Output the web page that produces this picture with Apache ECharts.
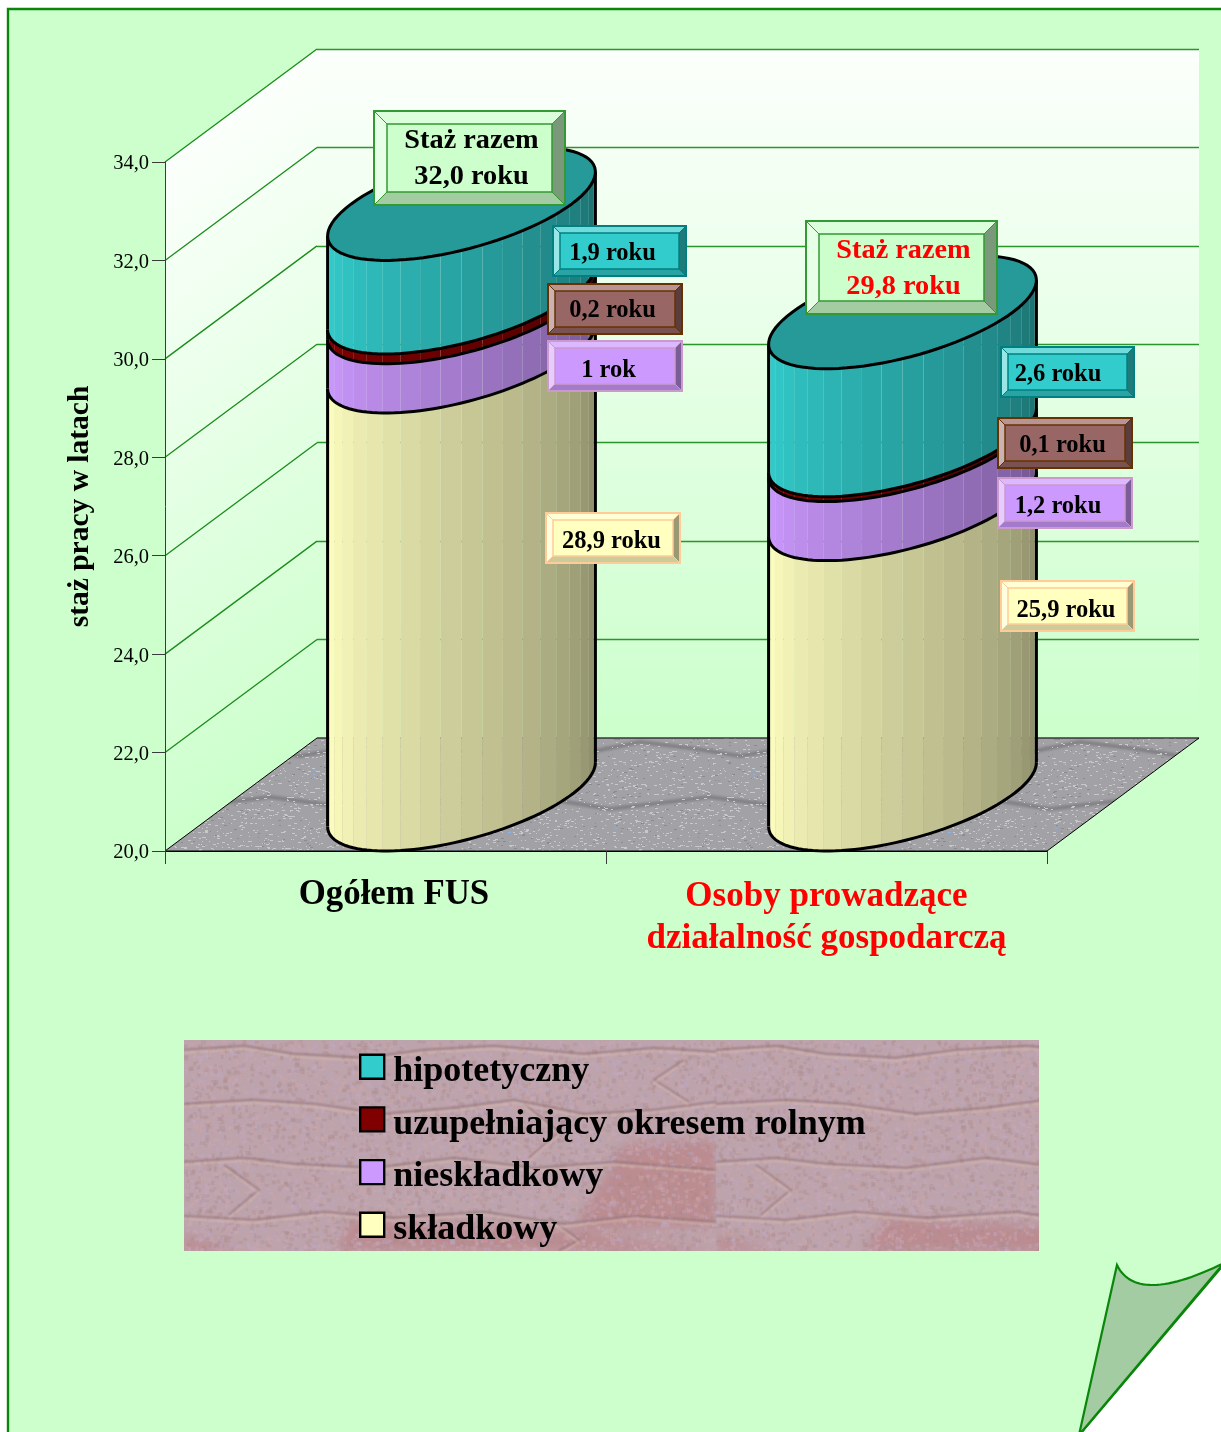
<!DOCTYPE html>
<html><head><meta charset="utf-8">
<style>html,body{margin:0;padding:0;background:#fff}#c{width:1221px;height:1432px}</style>
<script src="https://cdn.jsdelivr.net/npm/echarts@6/dist/echarts.min.js"></script>
</head><body><div id="c"></div>
<script>
// ---------- data ----------
const categories = ['Ogółem FUS', 'Osoby prowadzące\ndziałalność gospodarczą'];
const skladkowy = [28.9, 25.9];
const nieskladkowy = [1.0, 1.2];
const uzupelniajacy = [0.2, 0.1];
const hipotetyczny = [1.9, 2.6];
const yMin = 20, yMax = 34, yStep = 2;
const yTicks = [20, 22, 24, 26, 28, 30, 32, 34];
const skladkowyLabels = ['28,9 roku', '25,9 roku'];
const nieskladkowyLabels = ['1 rok', '1,2 roku'];
const uzupelniajacyLabels = ['0,2 roku', '0,1 roku'];
const hipotetycznyLabels = ['1,9 roku', '2,6 roku'];
const razemLabels = ['Staż razem\n32,0 roku', 'Staż razem\n29,8 roku'];
const seriesNames = ['składkowy', 'nieskładkowy', 'uzupełniający okresem rolnym', 'hipotetyczny'];

// ---------- layout and style ----------
const FONT = '"Liberation Serif","Times New Roman",serif';
const DEPTH_X = 152, DEPTH_Y = 113;
const seriesColors = ['#FFFFC0', '#CC99FF', '#800000', '#33CCCC'];
const STRIPS = 20;
const shadeEnd = 0.54;
const grid = {left: 165, top: 162, width: 882, height: 689};
// callout boxes: x0,y0,x1,y1, text centre x,y
const small = 7, big = 13;
const boxLayouts = [
  {text: razemLabels[0], r: [374, 111, 565, 205], c: [471.5, 159], face: '#CCFFCC', line: '#339933', col: '#000', fs: 28.3, bev: big},
  {text: razemLabels[1], r: [806, 221, 997, 314], c: [903.5, 269], face: '#CCFFCC', line: '#339933', col: '#FF0000', fs: 28.3, bev: big},
  {text: hipotetycznyLabels[0], r: [553, 226, 686, 276], c: [612.5, 254], face: '#33CCCC', line: '#008080', col: '#000', fs: 24.5, bev: small},
  {text: uzupelniajacyLabels[0], r: [548, 284, 682, 334], c: [612.5, 311], face: '#996666', line: '#663300', col: '#000', fs: 24.5, bev: small},
  {text: nieskladkowyLabels[0], r: [548, 341, 682, 391], c: [608.5, 371], face: '#CC99FF', line: '#CC99CC', col: '#000', fs: 24.5, bev: small},
  {text: skladkowyLabels[0], r: [546, 513, 680, 563], c: [611.5, 542], face: '#FFFFC0', line: '#FFCC99', col: '#000', fs: 24.5, bev: small},
  {text: hipotetycznyLabels[1], r: [1001, 347, 1134, 397], c: [1058, 375], face: '#33CCCC', line: '#008080', col: '#000', fs: 24.5, bev: small},
  {text: uzupelniajacyLabels[1], r: [998, 418, 1132, 468], c: [1062.5, 446], face: '#996666', line: '#663300', col: '#000', fs: 24.5, bev: small},
  {text: nieskladkowyLabels[1], r: [998, 478, 1132, 528], c: [1058, 507], face: '#CC99FF', line: '#CC99CC', col: '#000', fs: 24.5, bev: small},
  {text: skladkowyLabels[1], r: [1001, 581, 1134, 631], c: [1066, 611], face: '#FFFFC0', line: '#FFCC99', col: '#000', fs: 24.5, bev: small}
];

function parse(c) { return [1, 3, 5].map(i => parseInt(c.substr(i, 2), 16)); }
function scale(c, k) { return 'rgb(' + parse(c).map(v => Math.round(v * k)).join(',') + ')'; }
function tint(c, k) { return 'rgb(' + parse(c).map(v => Math.round(v + (255 - v) * k)).join(',') + ')'; }

// ---------- decorative textures ----------
let seed = 12345;
function lcg() { seed = (seed * 1103515245 + 12345) & 0x7fffffff; return seed / 0x7fffffff; }
function floorTexture() {
  const cv = document.createElement('canvas'); cv.width = 440; cv.height = 113;
  const g = cv.getContext('2d');
  g.fillStyle = '#a2a2a6'; g.fillRect(0, 0, 440, 113);
  const paths = [[0, 12, 40, 8, 80, 14, 120, 10, 170, 18, 220, 12, 270, 6, 330, 14, 390, 10, 440, 12],
    [0, 70, 50, 76, 100, 68, 150, 74, 200, 64, 250, 70, 300, 78, 360, 68, 440, 70]];
  g.save(); g.filter = 'blur(1.2px)';
  g.strokeStyle = 'rgba(125,125,128,.85)'; g.lineWidth = 4; g.lineJoin = 'round';
  paths.forEach(p => {
    g.beginPath(); g.moveTo(p[0], p[1]);
    for (let i = 2; i < p.length; i += 2) g.lineTo(p[i], p[i + 1]);
    g.stroke();
  });
  g.restore();
  for (let i = 0; i < 2300; i++) {
    const x = Math.floor(lcg() * 440), y = Math.floor(lcg() * 113);
    g.fillStyle = lcg() > 0.985 ? '#8ab4ea' : (lcg() > 0.2 ? '#c8c8ca' : '#8b8b8f');
    g.fillRect(x, y, 1 + Math.floor(lcg() * 3), 1);
  }
  return cv;
}
function legendTexture() {
  const W = 855, H = 211, T = 532;
  const cv = document.createElement('canvas'); cv.width = W; cv.height = H;
  const g = cv.getContext('2d');
  g.fillStyle = '#bda3ab'; g.fillRect(0, 0, W, H);
  g.save(); g.filter = 'blur(6px)';
  for (const off of [0, T]) {
    g.save(); g.beginPath(); g.rect(off, 0, T, H); g.clip();
    g.fillStyle = 'rgba(185,105,105,.4)';
    [[440, 105, 532, 100, 532, 185, 390, 190], [170, 178, 380, 190, 532, 211, 150, 211], [0, 195, 60, 211, 0, 211]].forEach(p => {
      g.beginPath(); g.moveTo(off + p[0], p[1]);
      for (let i = 2; i < p.length; i += 2) g.lineTo(off + p[i], p[i + 1]);
      g.closePath(); g.fill();
    });
    g.restore();
  }
  g.restore();
  const spots = ['rgba(200,170,190,.4)', 'rgba(175,145,150,.4)', 'rgba(205,165,165,.35)', 'rgba(190,170,200,.35)', 'rgba(170,135,135,.3)'];
  g.save(); g.filter = 'blur(.7px)';
  for (let i = 0; i < 9000; i++) {
    g.fillStyle = spots[Math.floor(lcg() * spots.length)];
    g.fillRect(lcg() * W, lcg() * H, 2 + lcg() * 3, 2 + lcg() * 3);
  }
  g.restore();
  const waves = [
    [0, 10, 60, 6, 110, 14, 180, 18, 240, 10, 310, 6, 400, 14, 470, 8, 532, 12],
    [0, 64, 70, 60, 130, 64, 200, 74, 270, 68, 330, 60, 400, 74, 470, 70, 532, 62],
    [0, 122, 60, 118, 110, 124, 190, 128, 270, 118, 350, 128, 430, 122, 532, 130],
    [0, 176, 70, 180, 140, 172, 210, 178, 300, 172, 380, 184, 450, 176, 532, 182]
  ];
  const kinks = [[340, 64, 375, 92, 345, 118], [40, 125, 75, 150, 45, 175], [500, 20, 470, 40, 505, 62], [365, 178, 395, 200, 375, 211]];
  g.save(); g.filter = 'blur(1px)';
  for (const off of [0, T]) {
    [['rgba(140,105,112,.7)', 0], ['rgba(222,195,180,.6)', 2.5]].forEach(([col, dy]) => {
      g.strokeStyle = col; g.lineWidth = 2; g.lineJoin = 'round';
      waves.concat(kinks).forEach(p => {
        g.beginPath(); g.moveTo(off + p[0], p[1] + dy);
        for (let i = 2; i < p.length; i += 2) g.lineTo(off + p[i], p[i + 1] + dy);
        g.stroke();
      });
    });
  }
  g.restore();
  return cv;
}
const floorPattern = {image: floorTexture(), repeat: 'repeat'};
function foldOutline() {
  const p0 = [1117, 1265], p1 = [1130, 1292], p2 = [1165, 1292], p3 = [1224, 1263];
  const pts = [];
  for (let i = 0; i <= 30; i++) {
    const t = i / 30, u = 1 - t;
    pts.push([0, 1].map(d => u * u * u * p0[d] + 3 * u * u * t * p1[d] + 3 * u * t * t * p2[d] + t * t * t * p3[d]));
  }
  pts.push([1079, 1435]);
  return pts;
}

// ---------- cylinder ----------
const stacks = [skladkowy, nieskladkowy, uzupelniajacy, hipotetyczny];
function ring(cx, cy, rx, a) {
  const dx = DEPTH_X / 2, dy = DEPTH_Y / 2;
  return [cx + rx * Math.cos(a) + dx * Math.sin(a), cy - dy * Math.sin(a)];
}
function makeCylinderSeries(k, values) {
  const from = values.map((_, i) => {
    let s = 0;
    for (let j = 0; j < k; j++) s += stacks[j][i];
    return s;
  });
  return {
    type: 'custom', name: seriesNames[k], xAxisIndex: 0, yAxisIndex: 0, z: 4,
    itemStyle: {color: seriesColors[k]},
    encode: {x: 0, y: [1, 2]},
    data: values.map((v, i) => [i, from[i], from[i] + v]),
    renderItem(params, api) {
      const idx = api.value(0), lo = Math.max(api.value(1), yMin), hi = api.value(2);
      const band = api.size([1, 0])[0], rx = band / 4;
      const pLo = api.coord([idx, lo]), pHi = api.coord([idx, hi]);
      const cx = pLo[0] + DEPTH_X / 2, yLo = pLo[1] - DEPTH_Y / 2, yHi = pHi[1] - DEPTH_Y / 2;
      const a0 = Math.atan2(DEPTH_X / 2, rx);
      const start = a0 + Math.PI, step = Math.PI / STRIPS;
      const kids = [];
      for (let s = 0; s < STRIPS; s++) {
        const up = [], dn = [];
        for (let t = 0; t <= 3; t++) {
          const a = start + (s + t / 3) * step;
          up.push(ring(cx, yHi, rx, a)); dn.unshift(ring(cx, yLo, rx, a));
        }
        const f = 1 - (1 - shadeEnd) * Math.pow(s / (STRIPS - 1), 1.15);
        kids.push({type: 'polygon', shape: {points: up.concat(dn)}, style: {fill: scale(seriesColors[k], f)}, silent: true});
      }
      const edge = [];
      for (let s = 0; s <= 60; s++) edge.push(ring(cx, yLo, rx, start + s / 60 * Math.PI));
      kids.push({type: 'polyline', shape: {points: edge}, style: {stroke: '#000', lineWidth: 3, fill: null}, silent: true});
      const l0 = ring(cx, yLo, rx, start), l1 = ring(cx, yHi, rx, start);
      const r0 = ring(cx, yLo, rx, start + Math.PI), r1 = ring(cx, yHi, rx, start + Math.PI);
      kids.push({type: 'line', shape: {x1: l0[0], y1: l0[1], x2: l1[0], y2: l1[1]}, style: {stroke: '#000', lineWidth: 3}, silent: true});
      kids.push({type: 'line', shape: {x1: r0[0], y1: r0[1], x2: r1[0], y2: r1[1]}, style: {stroke: '#000', lineWidth: 3}, silent: true});
      if (k === stacks.length - 1) {
        const top = [];
        for (let s = 0; s < 90; s++) top.push(ring(cx, yHi, rx, s / 90 * Math.PI * 2));
        kids.push({type: 'polygon', shape: {points: top}, style: {fill: scale(seriesColors[k], 0.75), stroke: '#000', lineWidth: 3}, silent: true});
      }
      return {type: 'group', children: kids};
    }
  };
}

function wallSeries() {
  return {
    type: 'custom', xAxisIndex: 0, yAxisIndex: 0, z: 0, data: [[0, yMin]],
    encode: {x: 0, y: 1}, silent: true,
    renderItem(params, api) {
      const s = params.coordSys, x = s.x, y = s.y, w = s.width, h = s.height;
      const n = [DEPTH_Y, DEPTH_X], len = Math.hypot(n[0], n[1]);
      const dist = h * n[1] / len;
      const stops = [{offset: 0, color: '#FCFFFC'}, {offset: 1, color: '#CCFFCC'}];
      return {type: 'group', children: [
        {type: 'polygon', shape: {points: [[x + DEPTH_X, y - DEPTH_Y], [x + w + DEPTH_X, y - DEPTH_Y], [x + w + DEPTH_X, y + h - DEPTH_Y], [x + DEPTH_X, y + h - DEPTH_Y]]},
         style: {fill: {type: 'linear', global: true, x: 0, y: y - DEPTH_Y, x2: 0, y2: y + h - DEPTH_Y, colorStops: stops}}},
        {type: 'polygon', shape: {points: [[x, y], [x + DEPTH_X, y - DEPTH_Y], [x + DEPTH_X, y + h - DEPTH_Y], [x, y + h]]},
         style: {fill: {type: 'linear', global: true, x: x, y: y, x2: x + dist * n[0] / len, y2: y + dist * n[1] / len, colorStops: stops}}}
      ]};
    }
  };
}
function diagonalSeries() {
  return {
    type: 'custom', xAxisIndex: 0, yAxisIndex: 0, z: 1, data: yTicks.slice(1).map(v => [0, v]),
    encode: {x: 0, y: 1}, silent: true,
    renderItem(params, api) {
      const x = params.coordSys.x, y = api.coord([0, api.value(1)])[1];
      return {type: 'line', shape: {x1: x, y1: y, x2: x + DEPTH_X, y2: y - DEPTH_Y}, style: {stroke: '#1a8c1a', lineWidth: 1.3}};
    }
  };
}
function floorSeries() {
  return {
    type: 'custom', xAxisIndex: 0, yAxisIndex: 0, z: 2, data: [[0, yMin]],
    encode: {x: 0, y: 1}, silent: true,
    renderItem(params, api) {
      const s = params.coordSys, x = s.x, w = s.width, y = api.coord([0, api.value(1)])[1];
      return {type: 'polygon', shape: {points: [[x, y], [x + w, y], [x + w + DEPTH_X, y - DEPTH_Y], [x + DEPTH_X, y - DEPTH_Y]]},
        style: {fill: floorPattern, stroke: '#000', lineWidth: 1}};
    }
  };
}
function boxSeries() {
  return {
    type: 'custom', xAxisIndex: 0, yAxisIndex: 0, z: 6, data: boxLayouts.map((_, i) => [0, yMin, i]),
    encode: {x: 0, y: 1}, silent: true,
    renderItem(params, api) {
      const b = boxLayouts[api.value(2)], [x0, y0, x1, y1] = b.r, e = b.bev;
      const inner = [[x0 + e, y0 + e], [x1 - e, y0 + e], [x1 - e, y1 - e], [x0 + e, y1 - e]];
      return {type: 'group', children: [
        {type: 'polygon', shape: {points: [[x0, y0], [x1, y0], inner[1], inner[0]]}, style: {fill: tint(b.face, 0.3)}},
        {type: 'polygon', shape: {points: [[x0, y0], inner[0], inner[3], [x0, y1]]}, style: {fill: tint(b.face, 0.5)}},
        {type: 'polygon', shape: {points: [[x1, y0], [x1, y1], inner[2], inner[1]]}, style: {fill: scale(b.face, 0.6)}},
        {type: 'polygon', shape: {points: [[x0, y1], inner[3], inner[2], [x1, y1]]}, style: {fill: scale(b.face, 0.8)}},
        {type: 'polygon', shape: {points: inner}, style: {fill: b.face, stroke: b.line, lineWidth: 1.5}},
        {type: 'polyline', shape: {points: [[x0, y0], inner[0]]}, style: {stroke: b.line, lineWidth: 1, fill: null}},
        {type: 'polyline', shape: {points: [[x1, y0], inner[1]]}, style: {stroke: b.line, lineWidth: 1, fill: null}},
        {type: 'polyline', shape: {points: [[x1, y1], inner[2]]}, style: {stroke: b.line, lineWidth: 1, fill: null}},
        {type: 'polyline', shape: {points: [[x0, y1], inner[3]]}, style: {stroke: b.line, lineWidth: 1, fill: null}},
        {type: 'rect', shape: {x: x0, y: y0, width: x1 - x0, height: y1 - y0}, style: {fill: null, stroke: b.line, lineWidth: 2}},
        {type: 'text', style: {text: b.text, x: b.c[0], y: b.c[1], align: 'center', verticalAlign: 'middle', fill: b.col,
          font: 'bold ' + b.fs + 'px ' + FONT, lineHeight: 36}}
      ]};
    }
  };
}

const axisInk = '#3a3a3a';
const option = {
  animation: false,
  backgroundColor: '#ffffff',
  graphic: {elements: [
    {type: 'polygon', z: -10, silent: true, shape: {points: [[8, 9], [1225, 9], [1225, 1263], [1080, 1434], [8, 1434]]},
     style: {fill: '#CCFFCC', stroke: '#0a870a', lineWidth: 2.4}},
    {type: 'polygon', z: -9, silent: true, shape: {points: foldOutline()},
     style: {fill: '#A3CCA3', stroke: '#0a870a', lineWidth: 2.2}},
    {type: 'image', z: -8, silent: true, style: {image: legendTexture(), x: 184, y: 1040, width: 855, height: 211}}
  ]},
  grid: [
    {left: grid.left, top: grid.top, width: grid.width, height: grid.height, containLabel: false},
    {left: grid.left + DEPTH_X, top: grid.top - DEPTH_Y, width: grid.width, height: grid.height, containLabel: false}
  ],
  xAxis: [
    {type: 'category', gridIndex: 0, data: categories, z: 3,
     axisLine: {lineStyle: {color: '#000', width: 1}}, axisTick: {show: true, length: 13, lineStyle: {color: axisInk}},
     axisLabel: {interval: 0, margin: 25, fontFamily: FONT,
       formatter(v) { const st = v === categories[0] ? 'a' : 'b'; return v.split('\n').map(l => '{' + st + '|' + l + '}').join('\n'); },
       rich: {
         a: {fontFamily: FONT, fontWeight: 'bold', fontSize: 34.8, color: '#000', lineHeight: 38, padding: [0, 0, 0, 17]},
         b: {fontFamily: FONT, fontWeight: 'bold', fontSize: 35, color: '#FF0000', lineHeight: 42}
       }}},
    {type: 'category', gridIndex: 1, data: categories, show: false}
  ],
  yAxis: [
    {type: 'value', gridIndex: 0, min: yMin, max: yMax, interval: yStep, z: 3,
     name: 'staż pracy w latach', nameLocation: 'middle', nameRotate: 90, nameGap: 70,
     nameTextStyle: {fontFamily: FONT, fontWeight: 'bold', fontSize: 29.5, color: '#000'},
     axisLine: {show: true, lineStyle: {color: axisInk, width: 1}},
     axisTick: {show: true, length: 13, lineStyle: {color: axisInk}},
     axisLabel: {margin: 16, formatter: v => '{v|' + v.toFixed(1).replace('.', ',') + '}',
       rich: {v: {fontFamily: FONT, fontSize: 20.5, color: '#000', lineHeight: 25, verticalAlign: 'bottom'}}},
     splitLine: {show: false}},
    {type: 'value', gridIndex: 1, min: yMin, max: yMax, interval: yStep, z: 1,
     axisLine: {show: false}, axisTick: {show: false}, axisLabel: {show: false},
     splitLine: {show: true, lineStyle: {color: '#2a952a', width: 1.4}}}
  ],
  legend: {
    left: 359, top: 1053.5, orient: 'vertical', selectedMode: false, padding: 0,
    itemWidth: 24, itemHeight: 24, itemGap: 16.5, icon: 'rect', z: 4,
    itemStyle: {borderColor: '#000', borderWidth: 2.4},
    formatter: n => '{t|' + n + '}',
    textStyle: {rich: {t: {fontFamily: FONT, fontWeight: 'bold', fontSize: 36, color: '#000', lineHeight: 46, verticalAlign: 'bottom', padding: [0, 0, 0, 4]}}},
    data: seriesNames.slice().reverse()
  },
  series: [wallSeries(), diagonalSeries(), floorSeries()]
    .concat(stacks.map((v, k) => makeCylinderSeries(k, v)))
    .concat([boxSeries()])
};
const chart = echarts.init(document.getElementById('c'), null, {renderer: 'canvas', width: 1221, height: 1432});
chart.setOption(option);
</script></body></html>
